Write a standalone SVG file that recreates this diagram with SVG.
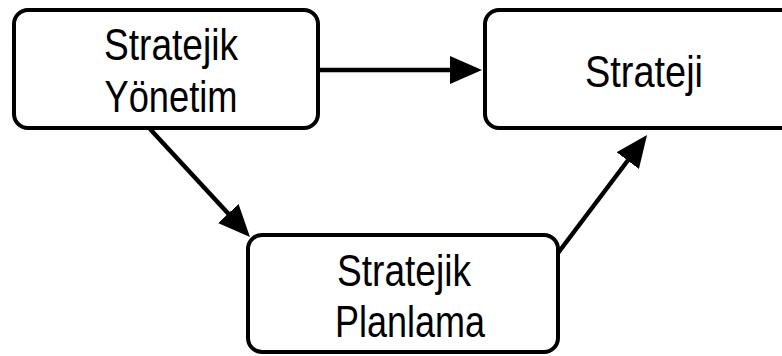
<svg xmlns="http://www.w3.org/2000/svg" width="782" height="356" viewBox="0 0 782 356">
<style>
.box{fill:#fff;stroke:#000;stroke-width:4}
.lbl{font-family:"Liberation Sans",Arial,sans-serif;font-size:44px;fill:#000;text-anchor:middle}
.conn{stroke:#000;stroke-width:4.5;fill:none;marker-end:url(#ah)}
</style>
<defs>
<marker id="ah" markerUnits="userSpaceOnUse" markerWidth="34" markerHeight="30" refX="22" refY="14" orient="auto">
<path d="M0,0 L32,14 L0,28 z" fill="#000"/>
</marker>
</defs>
<rect width="782" height="356" fill="#fff"/>
<g id="connectors">
<line class="conn" x1="318" y1="70" x2="472" y2="70"/>
<line class="conn" x1="150" y1="129" x2="243.2" y2="229.7"/>
<line class="conn" x1="558" y1="253" x2="641" y2="143"/>
</g>
<g id="stratejik-yonetim">
<rect class="box" x="14" y="10" width="304" height="118" rx="14"/>
<text class="lbl" x="171" y="60" textLength="134" lengthAdjust="spacingAndGlyphs">Stratejik</text>
<text class="lbl" x="171" y="112" textLength="133" lengthAdjust="spacingAndGlyphs">Yönetim</text>
</g>
<g id="strateji">
<rect class="box" x="485" y="10" width="310" height="118" rx="14"/>
<text class="lbl" x="644" y="87" font-size="46" textLength="118" lengthAdjust="spacingAndGlyphs">Strateji</text>
</g>
<g id="stratejik-planlama">
<rect class="box" x="248" y="235" width="310" height="117" rx="14"/>
<text class="lbl" x="404" y="286" textLength="134" lengthAdjust="spacingAndGlyphs">Stratejik</text>
<text class="lbl" x="410" y="337" textLength="150" lengthAdjust="spacingAndGlyphs">Planlama</text>
</g>
</svg>
